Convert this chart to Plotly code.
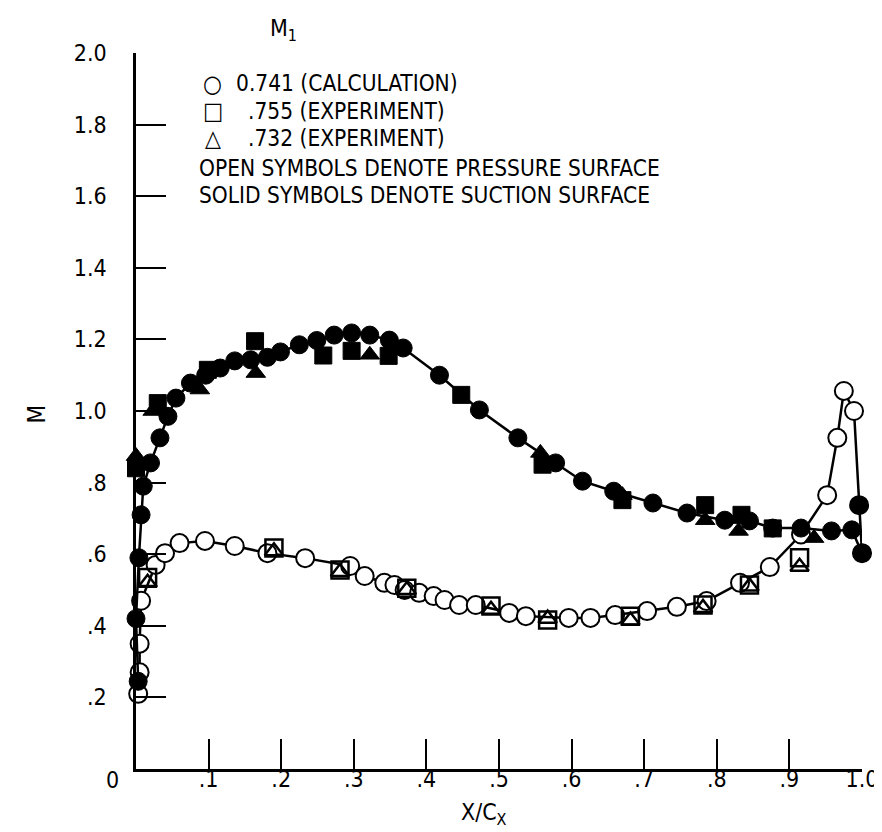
import plotly.graph_objects as go

# ---------------- data ----------------
# Calculation (M1 = 0.741), suction surface (solid circles)
calc_suction_x = [0.003, 0.0, 0.004, 0.007, 0.010, 0.020, 0.033, 0.044, 0.055, 0.075, 0.096,
                  0.116, 0.136, 0.158, 0.181, 0.199, 0.225, 0.249, 0.273, 0.297, 0.322, 0.349,
                  0.368, 0.418, 0.473, 0.526, 0.578, 0.615, 0.658, 0.712, 0.759, 0.811, 0.845,
                  0.877, 0.916, 0.958, 0.986, 1.0]
calc_suction_m = [0.245, 0.42, 0.59, 0.71, 0.79, 0.855, 0.925, 0.985, 1.036, 1.078, 1.10,
                  1.12, 1.14, 1.143, 1.15, 1.165, 1.185, 1.197, 1.212, 1.218, 1.212, 1.198,
                  1.176, 1.10, 1.003, 0.925, 0.855, 0.804, 0.776, 0.743, 0.715, 0.695, 0.693,
                  0.673, 0.673, 0.665, 0.668, 0.603]

# Calculation, pressure surface (open circles; last two points at trailing edge are solid)
calc_pressure_x = [0.003, 0.005, 0.005, 0.007, 0.027, 0.040, 0.060, 0.095, 0.136, 0.181,
                   0.233, 0.295, 0.315, 0.342, 0.356, 0.370, 0.390, 0.410, 0.425, 0.445,
                   0.468, 0.514, 0.537, 0.596, 0.626, 0.660, 0.704, 0.745, 0.786, 0.832,
                   0.873, 0.916, 0.952, 0.966, 0.975, 0.989, 0.996, 1.0]
calc_pressure_m = [0.21, 0.27, 0.35, 0.47, 0.57, 0.603, 0.631, 0.637, 0.623, 0.603,
                   0.589, 0.567, 0.539, 0.52, 0.514, 0.50, 0.492, 0.483, 0.472, 0.458,
                   0.458, 0.436, 0.427, 0.422, 0.422, 0.43, 0.441, 0.453, 0.469, 0.52,
                   0.564, 0.655, 0.765, 0.925, 1.056, 1.0, 0.737, 0.603]

# Experiment M1 = .755 (squares)
exp755_suction_x = [0.0, 0.030, 0.099, 0.164, 0.258, 0.297, 0.348, 0.448, 0.560, 0.670, 0.784, 0.834, 0.877]
exp755_suction_m = [0.84, 1.022, 1.115, 1.195, 1.155, 1.168, 1.154, 1.045, 0.85, 0.751, 0.737, 0.71, 0.672]
exp755_pressure_x = [0.016, 0.190, 0.281, 0.373, 0.489, 0.567, 0.681, 0.781, 0.845, 0.914]
exp755_pressure_m = [0.535, 0.617, 0.556, 0.505, 0.455, 0.416, 0.427, 0.458, 0.514, 0.59]

# Experiment M1 = .732 (triangles)
exp732_suction_x = [0.0, 0.023, 0.088, 0.165, 0.322, 0.557, 0.670, 0.784, 0.830, 0.934]
exp732_suction_m = [0.874, 1.0, 1.06, 1.106, 1.157, 0.883, 0.765, 0.695, 0.665, 0.645]
exp732_pressure_x = [0.016, 0.190, 0.281, 0.373, 0.489, 0.567, 0.681, 0.781, 0.845, 0.914]
exp732_pressure_m = [0.52, 0.608, 0.55, 0.50, 0.445, 0.42, 0.415, 0.45, 0.51, 0.565]

x_tick_vals = [0.1, 0.2, 0.3, 0.4, 0.5, 0.6, 0.7, 0.8, 0.9, 1.0]
x_tick_text = [".1", ".2", ".3", ".4", ".5", ".6", ".7", ".8", ".9", "1.0"]
y_tick_vals = [0.2, 0.4, 0.6, 0.8, 1.0, 1.2, 1.4, 1.6, 1.8, 2.0]
y_tick_text = [".2", ".4", ".6", ".8", "1.0", "1.2", "1.4", "1.6", "1.8", "2.0"]

# ---------------- figure ----------------
FONT = "DejaVu Sans Condensed, DejaVu Sans, sans-serif"
BLACK = "#000000"

fig = go.Figure()

pressure_colors = ["white"] * (len(calc_pressure_x) - 2) + [BLACK, BLACK]
fig.add_trace(go.Scatter(
    x=calc_pressure_x, y=calc_pressure_m, mode="lines+markers",
    line=dict(color=BLACK, width=2.5),
    marker=dict(symbol="circle", size=18, color=pressure_colors, line=dict(color=BLACK, width=2)),
    cliponaxis=False, showlegend=False))

fig.add_trace(go.Scatter(
    x=calc_suction_x, y=calc_suction_m, mode="lines+markers",
    line=dict(color=BLACK, width=2.5),
    marker=dict(symbol="circle", size=18, color=BLACK, line=dict(color=BLACK, width=1)),
    cliponaxis=False, showlegend=False))

fig.add_trace(go.Scatter(
    x=exp755_pressure_x, y=exp755_pressure_m, mode="markers",
    marker=dict(symbol="square-open", size=17, color=BLACK, line=dict(color=BLACK, width=2.5)),
    cliponaxis=False, showlegend=False))
fig.add_trace(go.Scatter(
    x=exp732_pressure_x, y=exp732_pressure_m, mode="markers",
    marker=dict(symbol="triangle-up-open", size=16, color=BLACK, line=dict(color=BLACK, width=2.5)),
    cliponaxis=False, showlegend=False))
fig.add_trace(go.Scatter(
    x=exp755_suction_x, y=exp755_suction_m, mode="markers",
    marker=dict(symbol="square", size=17, color=BLACK, line=dict(color=BLACK, width=1)),
    cliponaxis=False, showlegend=False))
fig.add_trace(go.Scatter(
    x=exp732_suction_x, y=exp732_suction_m, mode="markers",
    marker=dict(symbol="triangle-up", size=17, color=BLACK, line=dict(color=BLACK, width=1)),
    cliponaxis=False, showlegend=False))

L, R, T, B = 128, 24, 45, 71
W, H = 882, 832
PW, PH = W - L - R, H - T - B


def px(xp):
    return (xp - L) / PW


def py(yp):
    return (H - B - yp) / PH


annos = []


def txt(text, xp, yp, size=22.5, xanchor="left", angle=0):
    annos.append(dict(text=text, x=px(xp), y=py(yp), xref="paper", yref="paper",
                      xanchor=xanchor, yanchor="middle", showarrow=False, textangle=angle,
                      borderpad=0,
                      font=dict(family=FONT, size=size, color=BLACK)))


txt("M<sub>1</sub>", 262, 22, size=23)
txt("\u25CB", 205, 76, size=24, xanchor="center")
txt("\u25A1", 205, 103, size=24, xanchor="center")
txt("\u25B3", 205, 130, size=23, xanchor="center")
txt("0.741 (CALCULATION)", 228, 75)
txt(".755 (EXPERIMENT)", 240, 103)
txt(".732 (EXPERIMENT)", 240, 130)
txt("OPEN SYMBOLS DENOTE PRESSURE SURFACE", 190, 160)
txt("SOLID SYMBOLS DENOTE SUCTION SURFACE", 190, 187)
txt("0", 104, 772, size=23, xanchor="center")
txt("M", 28, 406, size=24, xanchor="center", angle=-90)
txt("X/C<sub>X</sub>", 478, 806, size=23, xanchor="center")

fig.update_layout(
    width=W, height=H,
    margin=dict(l=L, r=R, t=T, b=B),
    paper_bgcolor="white", plot_bgcolor="white",
    font=dict(family=FONT, size=23, color=BLACK),
    annotations=annos,
    showlegend=False,
)
fig.update_xaxes(
    range=[0, 1.0], showgrid=False, zeroline=False,
    showline=True, linecolor=BLACK, linewidth=2.5,
    ticks="inside", ticklen=30, tickwidth=2, tickcolor=BLACK,
    tickvals=x_tick_vals, ticktext=x_tick_text,
    tickfont=dict(family=FONT, size=23, color=BLACK),
    ticklabelstandoff=-12,
)
fig.update_yaxes(
    range=[0, 2.0], showgrid=False, zeroline=False,
    showline=True, linecolor=BLACK, linewidth=2.5,
    ticks="inside", ticklen=30, tickwidth=2, tickcolor=BLACK,
    tickvals=y_tick_vals, ticktext=y_tick_text,
    tickfont=dict(family=FONT, size=23, color=BLACK),
    ticklabelstandoff=22,
)

fig.write_html("out.html")
